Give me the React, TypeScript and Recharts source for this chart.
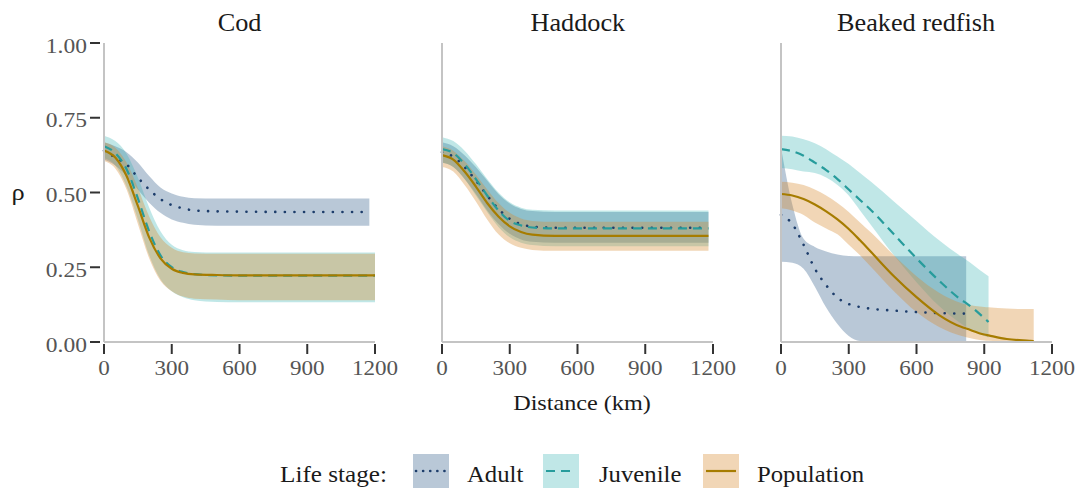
import React from 'react';
import { ComposedChart, Area, Line, XAxis, YAxis } from 'recharts';

// distances (km) per panel
const codDist = [0, 50, 100, 150, 200, 250, 300, 350, 400, 500, 600, 800, 1000, 1175, 1200];
const haddockDist = [0, 50, 100, 150, 200, 250, 300, 350, 400, 500, 600, 800, 1000, 1180];
const redfishDist = [0, 50, 100, 150, 200, 250, 300, 350, 400, 500, 600, 700, 800, 820, 900, 919, 1000, 1100, 1119];

// Cod
const codAdult = [0.64, 0.617, 0.594, 0.55, 0.51, 0.478, 0.458, 0.447, 0.44, 0.437, 0.436, 0.435, 0.435, 0.435, null];
const codAdultHi = [0.668, 0.655, 0.635, 0.6, 0.555, 0.517, 0.497, 0.486, 0.481, 0.48, 0.48, 0.48, 0.48, 0.48, null];
const codAdultLo = [0.61, 0.59, 0.555, 0.51, 0.466, 0.432, 0.41, 0.399, 0.392, 0.389, 0.389, 0.389, 0.389, 0.389, null];
const codJuv = [0.655, 0.632, 0.578, 0.48, 0.37, 0.29, 0.25, 0.234, 0.227, 0.223, 0.222, 0.222, 0.222, 0.222, 0.222];
const codJuvHi = [0.69, 0.672, 0.63, 0.55, 0.45, 0.37, 0.325, 0.307, 0.301, 0.299, 0.299, 0.299, 0.299, 0.299, 0.299];
const codJuvLo = [0.615, 0.59, 0.52, 0.41, 0.29, 0.21, 0.17, 0.15, 0.14, 0.134, 0.133, 0.133, 0.133, 0.133, 0.133];
const codPop = [0.64, 0.617, 0.555, 0.455, 0.35, 0.28, 0.245, 0.231, 0.226, 0.224, 0.223, 0.223, 0.223, 0.223, 0.223];
const codPopHi = [0.668, 0.65, 0.6, 0.515, 0.42, 0.35, 0.315, 0.3, 0.296, 0.295, 0.295, 0.295, 0.295, 0.295, 0.295];
const codPopLo = [0.605, 0.58, 0.51, 0.395, 0.28, 0.205, 0.17, 0.152, 0.145, 0.142, 0.14, 0.14, 0.14, 0.14, 0.14];

// Haddock
const hadAdult = [0.635, 0.62, 0.585, 0.54, 0.49, 0.445, 0.412, 0.394, 0.386, 0.382, 0.382, 0.382, 0.382, 0.382];
const hadAdultHi = [0.668, 0.655, 0.625, 0.585, 0.54, 0.495, 0.463, 0.445, 0.438, 0.435, 0.435, 0.435, 0.435, 0.435];
const hadAdultLo = [0.6, 0.585, 0.545, 0.495, 0.44, 0.395, 0.362, 0.343, 0.335, 0.332, 0.332, 0.332, 0.332, 0.332];
const hadJuv = [0.645, 0.632, 0.595, 0.545, 0.49, 0.44, 0.405, 0.39, 0.383, 0.38, 0.38, 0.38, 0.38, 0.38];
const hadJuvHi = [0.685, 0.672, 0.64, 0.595, 0.545, 0.5, 0.467, 0.449, 0.442, 0.44, 0.44, 0.44, 0.44, 0.44];
const hadJuvLo = [0.6, 0.585, 0.545, 0.49, 0.435, 0.385, 0.35, 0.332, 0.324, 0.32, 0.32, 0.32, 0.32, 0.32];
const hadPop = [0.625, 0.61, 0.57, 0.52, 0.465, 0.42, 0.387, 0.368, 0.359, 0.355, 0.355, 0.355, 0.355, 0.355];
const hadPopHi = [0.655, 0.64, 0.605, 0.56, 0.51, 0.465, 0.432, 0.413, 0.405, 0.402, 0.402, 0.402, 0.402, 0.402];
const hadPopLo = [0.585, 0.57, 0.525, 0.47, 0.41, 0.36, 0.33, 0.315, 0.308, 0.305, 0.305, 0.305, 0.305, 0.305];

// Beaked redfish
const redAdult = [0.425, 0.395, 0.325, 0.245, 0.19, 0.148, 0.127, 0.117, 0.111, 0.105, 0.1, 0.097, 0.095, 0.095, null, null, null, null, null];
const redAdultHi = [0.65, 0.46, 0.345, 0.318, 0.303, 0.293, 0.288, 0.287, 0.287, 0.287, 0.287, 0.287, 0.287, 0.287, null, null, null, null, null];
const redAdultLo = [0.268, 0.265, 0.245, 0.185, 0.115, 0.06, 0.02, 0.003, 0, 0, 0, 0, 0, 0, null, null, null, null, null];
const redJuv = [0.645, 0.638, 0.623, 0.6, 0.575, 0.545, 0.51, 0.475, 0.44, 0.36, 0.28, 0.205, 0.14, 0.13, 0.08, 0.067, null, null, null];
const redJuvHi = [0.69, 0.687, 0.678, 0.665, 0.645, 0.62, 0.595, 0.565, 0.535, 0.47, 0.405, 0.34, 0.285, 0.275, 0.23, 0.22, null, null, null];
const redJuvLo = [0.582, 0.578, 0.57, 0.565, 0.55, 0.525, 0.49, 0.44, 0.39, 0.29, 0.2, 0.12, 0.06, 0.05, 0.02, 0.015, null, null, null];
const redPop = [0.495, 0.49, 0.478, 0.46, 0.437, 0.41, 0.378, 0.34, 0.3, 0.22, 0.15, 0.09, 0.05, 0.045, 0.025, 0.022, 0.01, 0.004, 0.003];
const redPopHi = [0.536, 0.533, 0.525, 0.51, 0.49, 0.465, 0.435, 0.4, 0.365, 0.29, 0.22, 0.165, 0.13, 0.126, 0.117, 0.116, 0.112, 0.11, 0.11];
const redPopLo = [0.447, 0.44, 0.425, 0.4, 0.38, 0.36, 0.325, 0.29, 0.25, 0.17, 0.1, 0.05, 0.02, 0.016, 0.005, 0.004, 0, 0, 0];

const xTicks = [0, 300, 600, 900, 1200];
const yTicks = [0, 0.25, 0.5, 0.75, 1];

const panelTitles = ['Cod', 'Haddock', 'Beaked redfish'];
const legendItems = ['Adult', 'Juvenile', 'Population'];

const ADULT_FILL = '#2c5985';
const JUV_FILL = '#2fb0b0';
const POP_FILL = '#d88a2e';
const ADULT_LINE = '#1d3d6b';
const JUV_LINE = '#279c9c';
const POP_LINE = '#a67c00';
const FONT = '"Liberation Serif", "Times New Roman", serif';

const build = (dist, aM, aH, aL, jM, jH, jL, pM, pH, pL) =>
  dist.map((d, i) => ({
    d,
    adult: aM[i],
    adultBand: aL[i] == null ? null : [aL[i], aH[i]],
    juv: jM[i],
    juvBand: jL[i] == null ? null : [jL[i], jH[i]],
    pop: pM[i],
    popBand: pL[i] == null ? null : [pL[i], pH[i]],
  }));

const panels = [
  build(codDist, codAdult, codAdultHi, codAdultLo, codJuv, codJuvHi, codJuvLo, codPop, codPopHi, codPopLo),
  build(haddockDist, hadAdult, hadAdultHi, hadAdultLo, hadJuv, hadJuvHi, hadJuvLo, hadPop, hadPopHi, hadPopLo),
  build(redfishDist, redAdult, redAdultHi, redAdultLo, redJuv, redJuvHi, redJuvLo, redPop, redPopHi, redPopLo),
];

const YTick = (props) => {
  const { x, y, payload } = props;
  return (
    <g>
      <line x1={x - 14} x2={x - 4} y1={y} y2={y} stroke="#333" strokeWidth={2} />
      <text
        transform={`translate(${x - 17},${y + 9.5}) scale(1.12,1)`}
        textAnchor="end"
        fontFamily={FONT}
        fontSize={21}
        fill="#555"
      >
        {payload.value.toFixed(2)}
      </text>
    </g>
  );
};

const XTick = (props) => {
  const { x, y, payload } = props;
  return (
    <g>
      <line x1={x} x2={x} y1={y + 2} y2={y + 12} stroke="#333" strokeWidth={2} />
      <text
        transform={`translate(${x},${y + 33}) scale(1.1,1)`}
        textAnchor="middle"
        fontFamily={FONT}
        fontSize={21}
        fill="#555"
      >
        {payload.value}
      </text>
    </g>
  );
};

const Panel = ({ data, first }) => (
  <ComposedChart width={400} height={488} data={data} margin={{ top: 43, right: 25, bottom: 116, left: 0 }}>
    <XAxis
      dataKey="d"
      type="number"
      domain={[0, 1200]}
      ticks={xTicks}
      height={30}
      tickSize={0}
      tickMargin={0}
      tickLine={false}
      axisLine={{ stroke: '#c4c4c4', strokeWidth: 2 }}
      tick={<XTick />}
      interval={0}
    />
    <YAxis
      type="number"
      domain={[0, 1]}
      ticks={yTicks}
      width={104}
      tickSize={0}
      tickMargin={0}
      tickLine={false}
      axisLine={{ stroke: '#c4c4c4', strokeWidth: 2 }}
      tick={first ? <YTick /> : false}
      interval={0}
    />
    <Area dataKey="adultBand" type="monotone" stroke="none" fill={ADULT_FILL} fillOpacity={0.33} isAnimationActive={false} />
    <Area dataKey="juvBand" type="monotone" stroke="none" fill={JUV_FILL} fillOpacity={0.3} isAnimationActive={false} />
    <Area dataKey="popBand" type="monotone" stroke="none" fill={POP_FILL} fillOpacity={0.35} isAnimationActive={false} />
    <Line dataKey="adult" type="monotone" stroke={ADULT_LINE} strokeWidth={2.6} strokeDasharray="0.1 9.5" strokeLinecap="round" dot={false} isAnimationActive={false} />
    <Line dataKey="juv" type="monotone" stroke={JUV_LINE} strokeWidth={2.2} strokeDasharray="9 6" dot={false} isAnimationActive={false} />
    <Line dataKey="pop" type="monotone" stroke={POP_LINE} strokeWidth={2.2} dot={false} isAnimationActive={false} />
  </ComposedChart>
);

const offsets = [0, 338.3, 676.6];
const legendBoxes = [
  { x: 413, fill: ADULT_FILL, op: 0.33, stroke: ADULT_LINE, dash: '0.1 7', cap: 'round', w: 2.6 },
  { x: 543, fill: JUV_FILL, op: 0.3, stroke: JUV_LINE, dash: '9 6', cap: 'butt', w: 2.2 },
  { x: 703, fill: POP_FILL, op: 0.35, stroke: POP_LINE, dash: undefined, cap: 'butt', w: 2.2 },
];
const legendTextX = [467, 599, 757];

export default function App() {
  return (
    <div style={{ position: 'absolute', left: 0, top: 0, width: 1077, height: 488, background: '#fff', overflow: 'hidden' }}>
      {panels.map((data, i) => (
        <div key={i} style={{ position: 'absolute', left: offsets[i], top: 0 }}>
          <Panel data={data} first={i === 0} />
        </div>
      ))}
      <svg width={1077} height={488} style={{ position: 'absolute', left: 0, top: 0, pointerEvents: 'none' }}>
        {panelTitles.map((t, i) => (
          <text
            key={t}
            transform={`translate(${offsets[i] + 239.5},31) scale(1.05,1)`}
            textAnchor="middle"
            fontFamily={FONT}
            fontSize={25}
            fill="#1a1a1a"
          >
            {t}
          </text>
        ))}
        <text transform="translate(18,200) scale(1.1,1)" textAnchor="middle" fontFamily={FONT} fontSize={24} fill="#1a1a1a">
          ρ
        </text>
        <text transform="translate(582,410) scale(1.1,1)" textAnchor="middle" fontFamily={FONT} fontSize={22} fill="#1a1a1a">
          Distance (km)
        </text>
        <text transform="translate(280,482) scale(1.05,1)" fontFamily={FONT} fontSize={24} fill="#1a1a1a">
          Life stage:
        </text>
        {legendBoxes.map((b, i) => (
          <g key={i}>
            <rect x={b.x} y={454} width={36} height={34} fill={b.fill} fillOpacity={b.op} />
            <line
              x1={b.x + 3}
              x2={b.x + 33}
              y1={471}
              y2={471}
              stroke={b.stroke}
              strokeWidth={b.w}
              strokeDasharray={b.dash}
              strokeLinecap={b.cap}
            />
            <text transform={`translate(${legendTextX[i]},482) scale(1.03,1)`} fontFamily={FONT} fontSize={24} fill="#1a1a1a">
              {legendItems[i]}
            </text>
          </g>
        ))}
      </svg>
    </div>
  );
}
